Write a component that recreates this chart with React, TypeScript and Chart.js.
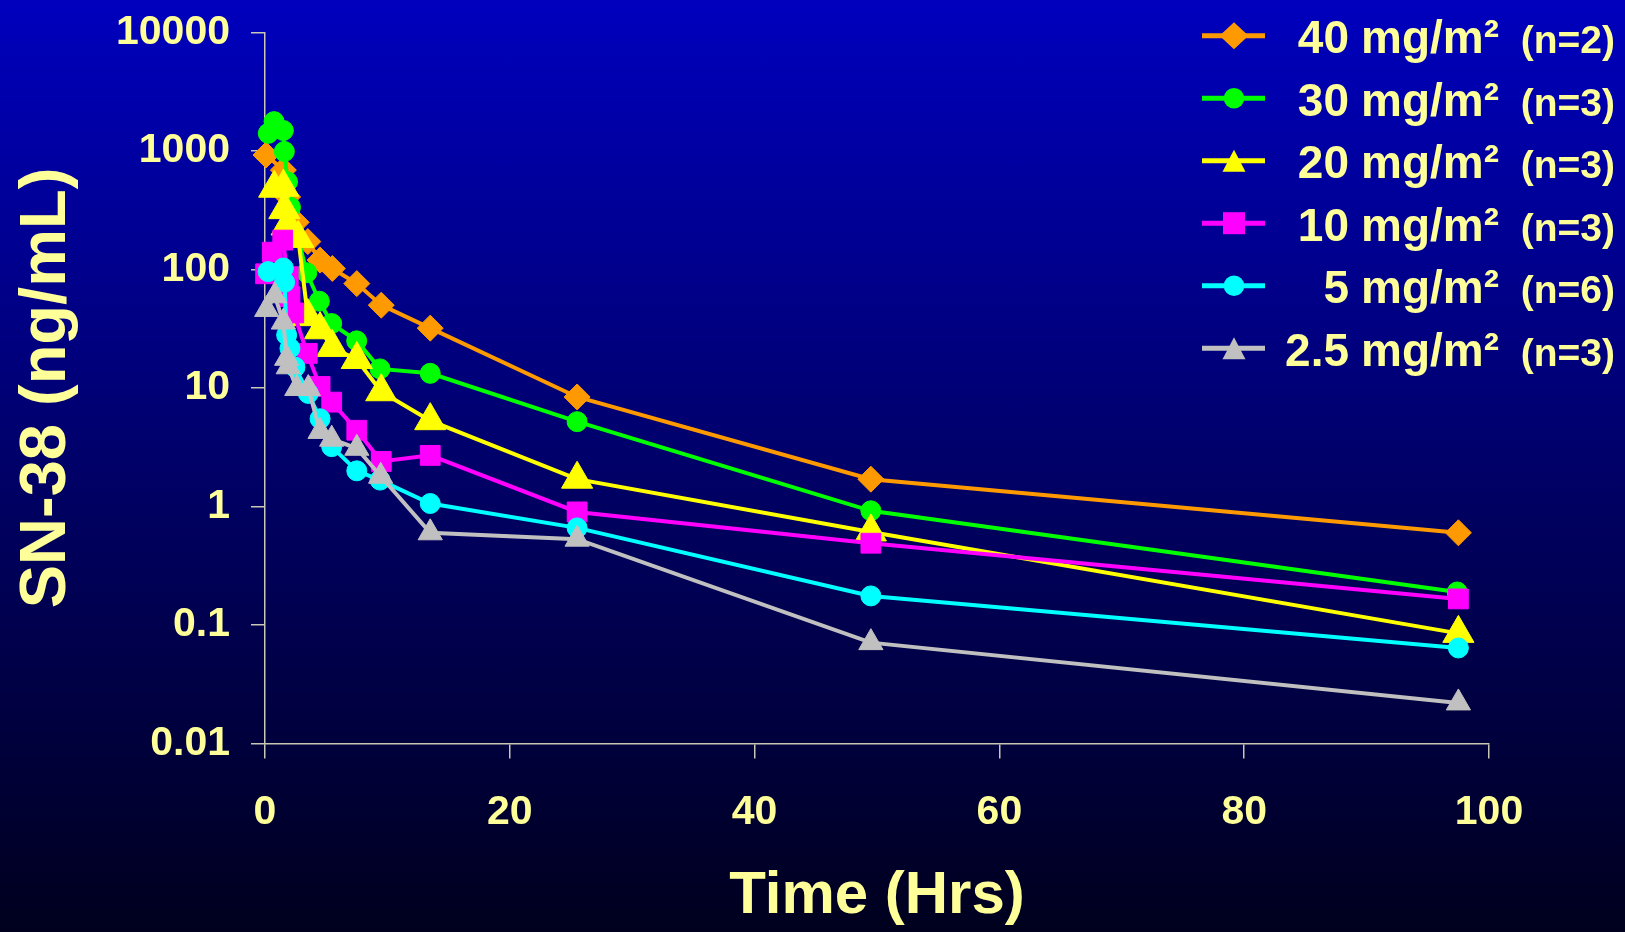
import { useEffect, useRef } from 'react';
import { Chart, registerables } from 'chart.js';

Chart.register(...registerables);

// ---------- data ----------
const doseLabels = ['40', '30', '20', '10', '5', '2.5'];
const countLabels = ['(n=2)', '(n=3)', '(n=3)', '(n=3)', '(n=6)', '(n=3)'];

const time40 = [0.08, 1.5, 1.85, 2.55, 3.5, 4.5, 5.5, 7.5, 9.5, 13.5, 25.5, 49.5, 97.5];
const conc40 = [925, 690, 410, 250, 172, 120, 102, 76, 50, 32, 8.4, 1.7, 0.6];

const time30 = [0.27, 0.74, 1.5, 1.58, 1.84, 2.08, 3.41, 4.44, 5.45, 7.49, 9.4, 13.5, 25.5, 49.5, 97.4];
const conc30 = [1410, 1770, 1490, 990, 550, 335, 94, 54, 35, 25, 14.5, 13.3, 5.2, 0.92, 0.19];

const time20 = [0.75, 1.5, 1.58, 1.77, 2.18, 2.72, 3.5, 4.5, 5.5, 7.5, 9.5, 13.5, 25.5, 49.5, 97.5];
const conc20 = [485, 495, 320, 233, 208, 183, 40, 31, 22, 17.4, 9.3, 5.3, 1.7, 0.61, 0.085];

const time10 = [0.05, 0.6, 1.45, 1.9, 2.04, 2.35, 3.45, 4.5, 5.45, 7.5, 9.5, 13.5, 25.5, 49.5, 97.5];
const conc10 = [92, 140, 177, 87, 59, 43, 19.6, 10.3, 7.6, 4.4, 2.4, 2.7, 0.9, 0.49, 0.166];

const time5 = [0.25, 1.5, 1.6, 1.77, 2.04, 2.45, 3.54, 4.5, 5.45, 7.5, 9.4, 13.5, 25.5, 49.5, 97.5];
const conc5 = [96, 103, 78, 28, 21.6, 15, 9.0, 5.5, 3.2, 2.0, 1.67, 1.06, 0.66, 0.176, 0.064];

const time25 = [0.14, 0.8, 1.5, 1.77, 1.9, 2.6, 3.54, 4.5, 5.45, 7.5, 9.45, 13.5, 25.5, 49.5, 97.5];
const conc25 = [46, 60, 36, 17.8, 15.1, 9.9, 9.9, 4.3, 3.7, 3.1, 1.8, 0.6, 0.53, 0.071, 0.022];

const seriesTimes = [time40, time30, time20, time10, time5, time25];
const seriesConcs = [conc40, conc30, conc20, conc10, conc5, conc25];

const xTickValues = [0, 20, 40, 60, 80, 100];
const xTickLabels = ['0', '20', '40', '60', '80', '100'];
const yTickValues = [0.01, 0.1, 1, 10, 100, 1000, 10000];
const yTickLabels = ['0.01', '0.1', '1', '10', '100', '1000', '10000'];

// ---------- styles ----------
const FONT = '"Liberation Sans", Arial, Helvetica, sans-serif';
const TEXT = '#FFFF99';
const AXIS = '#C8C8B4';
const colors = ['#FF9900', '#00FF00', '#FFFF00', '#FF00FF', '#00FFFF', '#C0C0C0'];
const shapes = ['rectRot', 'circle', 'triangle', 'rect', 'circle', 'triangle'];
const radii = [13, 10, 18, 14, 10, 14];

function drawLegendMarker(ctx: CanvasRenderingContext2D, shape: string, x: number, y: number, color: string) {
  ctx.fillStyle = color;
  ctx.beginPath();
  if (shape === 'rectRot') {
    ctx.moveTo(x, y - 13.5);
    ctx.lineTo(x + 14.5, y);
    ctx.lineTo(x, y + 13.5);
    ctx.lineTo(x - 14.5, y);
    ctx.closePath();
  } else if (shape === 'circle') {
    ctx.arc(x, y, 10.3, 0, Math.PI * 2);
  } else if (shape === 'triangle') {
    ctx.moveTo(x, y - 11);
    ctx.lineTo(x + 11.5, y + 11);
    ctx.lineTo(x - 11.5, y + 11);
    ctx.closePath();
  } else {
    ctx.rect(x - 11, y - 11, 22, 22);
  }
  ctx.fill();
}

const legendPlugin = {
  id: 'doseLegend',
  afterDraw(chart: any) {
    const ctx: CanvasRenderingContext2D = chart.ctx;
    ctx.save();
    chart.data.datasets.forEach((ds: any, i: number) => {
      const y = 35.7 + i * 62.5;
      ctx.strokeStyle = ds.borderColor;
      ctx.lineWidth = 5;
      ctx.beginPath();
      ctx.moveTo(1202, y);
      ctx.lineTo(1265, y);
      ctx.stroke();
      drawLegendMarker(ctx, shapes[i], 1234, y, ds.borderColor);

      ctx.fillStyle = TEXT;
      ctx.textBaseline = 'alphabetic';
      ctx.font = `bold 46px ${FONT}`;
      ctx.textAlign = 'right';
      ctx.fillText(doseLabels[i], 1349, y + 17.6);
      ctx.textAlign = 'left';
      ctx.fillText('mg/m²', 1361, y + 17.6);
      ctx.font = `bold 39px ${FONT}`;
      ctx.textAlign = 'right';
      ctx.fillText(countLabels[i], 1615, y + 17.6);
    });
    ctx.restore();
  },
};

export default function App() {
  const ref = useRef<HTMLCanvasElement>(null);

  useEffect(() => {
    const canvas = ref.current!;
    const datasets = seriesTimes.map((times, i) => ({
      label: `${doseLabels[i]} mg/m² ${countLabels[i]}`,
      data: times.map((t, j) => ({ x: t, y: seriesConcs[i][j] })),
      borderColor: colors[i],
      backgroundColor: colors[i],
      pointBackgroundColor: colors[i],
      pointBorderColor: colors[i],
      pointBorderWidth: 1,
      pointStyle: shapes[i],
      pointRadius: radii[i],
      borderWidth: 4,
      tension: 0,
      clip: false as any,
      order: 6 - i,
    }));

    const tickFont = { family: FONT, size: 41, weight: 'bold' as const };

    const chart = new Chart(canvas, {
      type: 'line',
      data: { datasets },
      plugins: [legendPlugin],
      options: {
        responsive: false,
        animation: false,
        devicePixelRatio: 1,
        layout: { padding: { left: 0, right: 136, top: 32.5, bottom: 0 } },
        plugins: { legend: { display: false }, tooltip: { enabled: false } },
        scales: {
          x: {
            type: 'linear',
            min: 0,
            max: 100,
            afterBuildTicks: (s: any) => {
              s.ticks = xTickValues.map((v) => ({ value: v }));
            },
            afterFit: (s: any) => {
              s.height = 188.5;
              s.paddingLeft = 0;
              s.paddingRight = 0;
            },
            ticks: {
              color: TEXT,
              font: tickFont,
              padding: 30,
              maxRotation: 0,
              autoSkip: false,
              callback: (_v: any, idx: number) => xTickLabels[idx],
            },
            grid: { drawOnChartArea: false, drawTicks: true, tickLength: 15, color: AXIS, lineWidth: 1.5 },
            border: { display: true, color: AXIS, width: 1.5 },
            title: {
              display: true,
              text: 'Time (Hrs)',
              color: TEXT,
              font: { family: FONT, size: 60, weight: 'bold' },
              padding: { top: 0, bottom: 0 },
            },
          },
          y: {
            type: 'logarithmic',
            min: 0.01,
            max: 10000,
            afterBuildTicks: (s: any) => {
              s.ticks = yTickValues.map((v) => ({ value: v }));
            },
            afterFit: (s: any) => {
              s.width = 265;
              s.paddingTop = 0;
              s.paddingBottom = 0;
            },
            ticks: {
              color: TEXT,
              font: tickFont,
              padding: 21,
              autoSkip: false,
              callback: (_v: any, idx: number) => yTickLabels[idx],
            },
            grid: { drawOnChartArea: false, drawTicks: true, tickLength: 14, color: AXIS, lineWidth: 1.5 },
            border: { display: true, color: AXIS, width: 1.5 },
            title: {
              display: true,
              text: 'SN-38 (ng/mL)',
              color: TEXT,
              font: { family: FONT, size: 65, weight: 'bold' },
              padding: { top: 8, bottom: 0 },
            },
          },
        },
      },
    } as any);

    return () => chart.destroy();
  }, []);

  return (
    <div
      style={{
        position: 'fixed',
        left: 0,
        top: 0,
        width: 1625,
        height: 932,
        background: 'linear-gradient(to bottom, #0000BE 0%, #000060 55%, #00001E 100%)',
      }}
    >
      <canvas ref={ref} width={1625} height={932} style={{ display: 'block', width: 1625, height: 932 }} />
    </div>
  );
}
